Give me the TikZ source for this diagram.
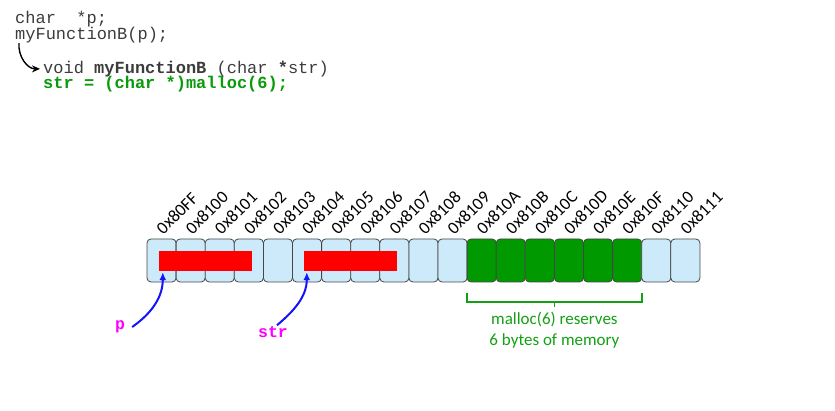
\documentclass[tikz,border=0pt]{standalone}
\usepackage{fontspec}
\setmainfont{Carlito}
\newfontfamily\codefont{Liberation Mono}
\usetikzlibrary{arrows.meta, calc}
\definecolor{cellblue}{RGB}{204,234,250}
\definecolor{cellgreen}{RGB}{0,153,0}
\definecolor{cellborder}{RGB}{70,70,70}
\definecolor{codegray}{RGB}{60,60,60}
\definecolor{codegreen}{RGB}{10,155,10}
\definecolor{notegreen}{RGB}{20,160,20}
\definecolor{ptrblue}{RGB}{20,20,250}
\definecolor{ptrpink}{RGB}{255,0,255}
\tikzset{
  cell/.style={draw=cellborder, line width=0.8pt, rounded corners=4pt,
    minimum width=29.1pt, minimum height=43pt, inner sep=0pt},
  addr/.style={rotate=45, anchor=south west, inner sep=0pt,
    font=\fontsize{17.5}{17.5}\selectfont},
  code/.style={anchor=base west, inner sep=0pt, text=codegray,
    font=\codefont\fontsize{17}{16}\selectfont},
  bar/.style={fill=red, minimum width=93pt, minimum height=20pt, inner sep=0pt},
  ptr/.style={-{Latex[length=8pt,width=7pt]}, draw=ptrblue, line width=2pt},
  ptrname/.style={text=ptrpink, inner sep=0pt,
    font=\codefont\bfseries\fontsize{16.5}{16}\selectfont},
  brk/.style={draw=notegreen, line width=1.8pt}
}

\begin{document}
\begin{tikzpicture}[x=1pt,y=1pt]
  \useasboundingbox (0,0) rectangle (835,411);
  % code
  \node[code] (line1) at (15,387.7) {char\ \ *p;};
  \node[code] (line2) at (15,371.7) {myFunctionB(p);};
  \node[code] (line3) at (43,337.7) {void \textbf{myFunctionB} (char \textbf{*}str)};
  \node[code, text=codegreen] (line4) at (43,322.7) {\textbf{str = (char *)malloc(6);}};
  \draw[-{Stealth[length=8pt,width=7pt]}, line width=1.4pt]
    ([xshift=4pt]line2.south west) to[out=-95, in=180] ([xshift=-3pt]line3.west);
  % memory cells
  \foreach \a [count=\i from 0] in {80FF,8100,8101,8102,8103,8104,8105,8106,8107,8108,
      8109,810A,810B,810C,810D,810E,810F,8110,8111} {
    \ifnum\i>10 \ifnum\i<17 \def\cf{cellgreen}\else\def\cf{cellblue}\fi
    \else\def\cf{cellblue}\fi
    \node[cell, fill=\cf] (c\i) at (161.55+29.1*\i,150.5) {};
    \node[addr] (a\i) at ([xshift=2pt,yshift=3pt]c\i.north) {0x\a};
  }
  \node[bar] (pbar) at (205.5,150) {};
  \node[bar] (strbar) at (350.5,150) {};
  % pointers
  \node[ptrname] (pname) at (120,84) {p};
  \node[ptrname] (strname) at (273,79) {str};
  \draw[ptr] ([xshift=7pt]pname.east) to[out=35, in=-90] ([xshift=4pt,yshift=-1pt]pbar.south west);
  \draw[ptr] ([xshift=4pt,yshift=1pt]strname.north) to[out=40, in=-90] ([xshift=3pt,yshift=-1pt]strbar.south west);
  % malloc bracket
  \draw[brk] ([yshift=-11pt]c11.south west) -- ++(0,-9) -| ([yshift=-11pt]c16.south east);
  \coordinate (brkmid) at ($(c11.south west)!.5!(c16.south east)+(0,-20)$);
  \draw[brk] (brkmid) -- ++(0,-5);
  \node[text=notegreen, align=center, font=\fontsize{17}{21}\selectfont] (note)
    at ($(brkmid)+(0,-28)$) {malloc(6) reserves\\6 bytes of memory};
\end{tikzpicture}
\end{document}
